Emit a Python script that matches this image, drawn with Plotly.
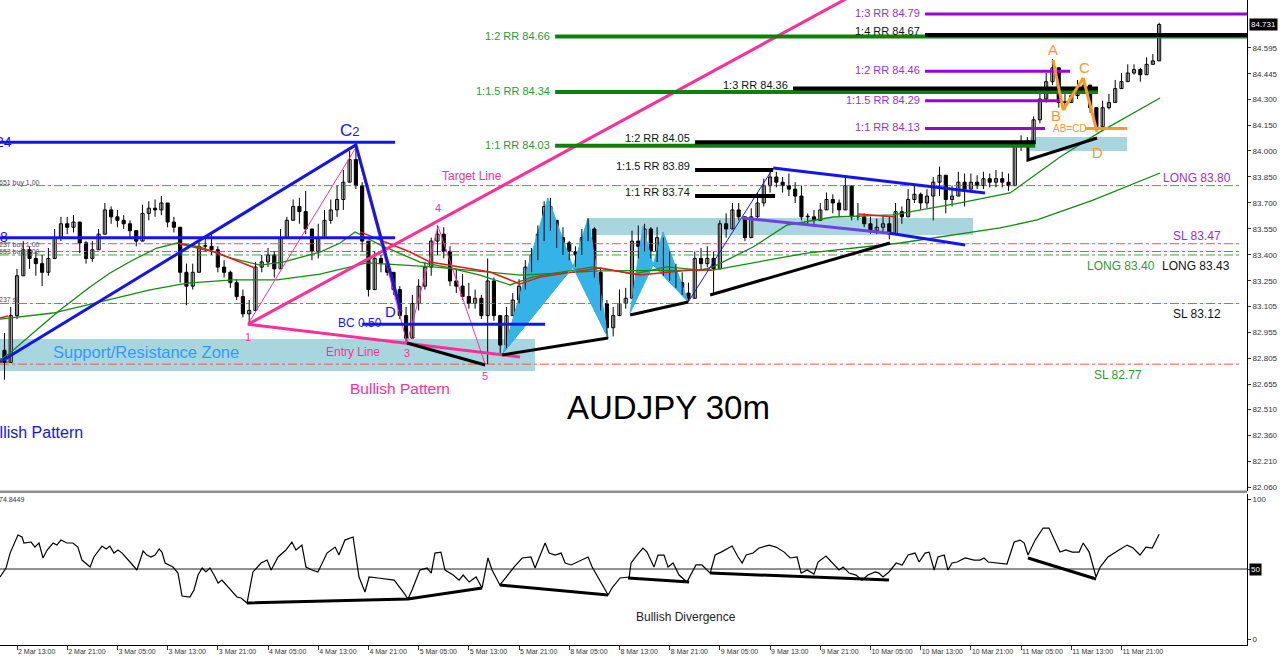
import plotly.graph_objects as go

# ------------------------------------------------------------------ DATA
# x = number of 30-minute bars after 2 Mar 13:00 ; one drawn candle = 1 hour
candle_bar = list(range(-4, 366, 2))
first_open = 8285  # price * 100
close_pips = [
    8278, 8305, 8328, 8343, 8338, 8335, 8330, 8338, 8350, 8358,
    8356, 8359, 8347, 8338, 8343, 8352, 8366, 8362, 8360, 8358,
    8354, 8348, 8364, 8367, 8366, 8370, 8359, 8356, 8330, 8322,
    8330, 8345, 8345, 8343, 8333, 8330, 8324, 8316, 8306, 8308,
    8333, 8336, 8340, 8332, 8350, 8360, 8368, 8365, 8355, 8342,
    8350, 8360, 8366, 8372, 8382, 8395, 8380, 8348, 8320, 8338,
    8335, 8330, 8320, 8305, 8292, 8312, 8322, 8333, 8348, 8352,
    8342, 8325, 8322, 8316, 8312, 8315, 8305, 8325, 8305, 8288,
    8305, 8314, 8322, 8333, 8340, 8352, 8368, 8360, 8350, 8347,
    8342, 8340, 8350, 8355, 8330, 8312, 8298, 8305, 8312, 8315,
    8348, 8345, 8355, 8342, 8350, 8332, 8330, 8324, 8318, 8315,
    8338, 8335, 8338, 8332, 8358, 8355, 8366, 8362, 8350, 8362,
    8370, 8380, 8385, 8382, 8380, 8378, 8374, 8362, 8362, 8360,
    8366, 8372, 8370, 8366, 8380, 8362, 8362, 8358, 8354, 8356,
    8358, 8352, 8365, 8362, 8372, 8375, 8370, 8374, 8382, 8386,
    8372, 8374, 8382, 8378, 8382, 8380, 8384, 8382, 8384, 8382,
    8380, 8403, 8405, 8404, 8418, 8430, 8440, 8448, 8428, 8428,
    8432, 8436, 8438, 8425, 8414, 8425, 8428, 8436, 8440, 8445,
    8447, 8444, 8450, 8452, 8473]
high_pips = [
    8295, 8310, 8332, 8348, 8345, 8342, 8340, 8344, 8355, 8362,
    8362, 8363, 8356, 8348, 8348, 8355, 8370, 8368, 8366, 8363,
    8360, 8353, 8369, 8371, 8372, 8374, 8368, 8362, 8356, 8335,
    8335, 8348, 8350, 8352, 8345, 8337, 8331, 8326, 8320, 8314,
    8336, 8340, 8344, 8342, 8355, 8362, 8372, 8373, 8377, 8355,
    8358, 8366, 8372, 8380, 8389, 8400, 8403, 8382, 8340, 8342,
    8340, 8338, 8330, 8322, 8310, 8317, 8326, 8336, 8350, 8357,
    8356, 8345, 8332, 8329, 8324, 8320, 8317, 8338, 8327, 8305,
    8310, 8318, 8326, 8337, 8344, 8357, 8371, 8373, 8360, 8356,
    8348, 8345, 8355, 8361, 8356, 8332, 8314, 8310, 8320, 8321,
    8354, 8357, 8358, 8356, 8356, 8345, 8342, 8335, 8330, 8324,
    8342, 8344, 8345, 8342, 8360, 8364, 8370, 8370, 8362, 8367,
    8376, 8384, 8389, 8388, 8385, 8387, 8382, 8380, 8364, 8366,
    8370, 8376, 8375, 8372, 8385, 8380, 8370, 8364, 8362, 8361,
    8363, 8362, 8370, 8368, 8378, 8380, 8376, 8378, 8385, 8391,
    8385, 8380, 8388, 8387, 8387, 8386, 8388, 8387, 8389, 8388,
    8387, 8406, 8409, 8408, 8420, 8433, 8445, 8453, 8442, 8435,
    8437, 8441, 8442, 8435, 8425, 8429, 8433, 8441, 8445, 8450,
    8450, 8448, 8454, 8456, 8474]
low_pips = [
    8268, 8278, 8303, 8328, 8332, 8328, 8322, 8328, 8338, 8348,
    8352, 8353, 8341, 8335, 8336, 8345, 8352, 8358, 8356, 8355,
    8350, 8345, 8348, 8360, 8362, 8363, 8356, 8353, 8324, 8311,
    8320, 8330, 8342, 8340, 8330, 8327, 8321, 8314, 8304, 8300,
    8310, 8330, 8333, 8327, 8336, 8352, 8360, 8358, 8352, 8337,
    8338, 8350, 8358, 8362, 8366, 8386, 8378, 8342, 8316, 8330,
    8330, 8328, 8317, 8303, 8289, 8292, 8308, 8320, 8328, 8340,
    8338, 8322, 8318, 8314, 8309, 8309, 8303, 8277, 8302, 8283,
    8286, 8305, 8312, 8320, 8330, 8337, 8348, 8354, 8344, 8340,
    8337, 8333, 8340, 8348, 8327, 8308, 8293, 8293, 8305, 8309,
    8325, 8338, 8342, 8338, 8336, 8328, 8325, 8321, 8317, 8313,
    8326, 8331, 8333, 8318, 8335, 8350, 8356, 8360, 8348, 8352,
    8361, 8368, 8376, 8379, 8376, 8374, 8370, 8360, 8358, 8358,
    8360, 8366, 8364, 8362, 8368, 8360, 8360, 8356, 8352, 8352,
    8353, 8349, 8355, 8358, 8362, 8370, 8366, 8367, 8360, 8374,
    8364, 8368, 8376, 8368, 8379, 8378, 8378, 8379, 8379, 8379,
    8377, 8382, 8400, 8401, 8404, 8416, 8428, 8438, 8425, 8424,
    8428, 8430, 8433, 8422, 8411, 8416, 8424, 8430, 8436, 8442,
    8444, 8440, 8447, 8450, 8455]

time_tick_bar = list(range(0, 353, 16))
time_tick_text = ["2 Mar 13:00", "2 Mar 21:00", "3 Mar 05:00", "3 Mar 13:00", "3 Mar 21:00",
                  "4 Mar 05:00", "4 Mar 13:00", "4 Mar 21:00", "5 Mar 05:00", "5 Mar 13:00",
                  "5 Mar 21:00", "8 Mar 05:00", "8 Mar 13:00", "8 Mar 21:00", "9 Mar 05:00",
                  "9 Mar 13:00", "9 Mar 21:00", "10 Mar 05:00", "10 Mar 13:00", "10 Mar 21:00",
                  "11 Mar 05:00", "11 Mar 13:00", "11 Mar 21:00"]
price_tick_vals = [84.595, 84.445, 84.300, 84.150, 84.000, 83.850, 83.700, 83.550, 83.400,
                   83.250, 83.105, 82.955, 82.805, 82.655, 82.510, 82.360, 82.210, 82.060]
last_price = 84.731
osc_last = "74.8449"

# oscillator (bar, value)
osc_points = [
    (-5.4, 44.3), (-3.5, 50.7), (-2.2, 61.4), (0.3, 74.3), (1.6, 72.9), (2.2, 68.6), (4.5, 69.3),
    (5.7, 65.7), (7.0, 68.6), (8.3, 57.9), (9.6, 63.6), (11.5, 68.6), (12.7, 67.1), (14.0, 70.7),
    (15.9, 68.6), (17.8, 68.6), (19.4, 65.7), (20.7, 56.4), (23.3, 51.4), (24.5, 58.6), (27.1, 66.4),
    (28.4, 64.3), (29.6, 66.4), (30.9, 61.4), (32.2, 63.6), (33.5, 61.4), (36.3, 54.3), (38.2, 49.3),
    (40.2, 62.9), (41.4, 60.0), (42.7, 58.6), (44.0, 60.0), (45.3, 64.3), (46.2, 62.1), (47.2, 54.3),
    (49.7, 51.4), (51.3, 47.1), (52.6, 30.7), (55.1, 30.0), (56.4, 35.0), (57.7, 45.7), (59.0, 50.7),
    (60.2, 47.9), (61.5, 50.7), (62.8, 45.7), (64.1, 40.0), (65.3, 42.1), (67.6, 36.4), (70.1, 30.0),
    (71.4, 29.3), (73.3, 25.7), (75.2, 47.9), (77.8, 54.3), (79.7, 56.4), (81.0, 49.3), (83.2, 58.6),
    (85.7, 63.6), (87.6, 69.3), (88.9, 63.6), (90.8, 67.1), (92.1, 51.4), (94.0, 49.3), (95.9, 47.9),
    (98.8, 61.4), (101.4, 65.7), (102.6, 60.0), (104.5, 70.7), (107.1, 72.9), (109.0, 44.3),
    (110.9, 33.6), (112.2, 44.3), (115.1, 43.6), (120.2, 42.1), (123.3, 32.9), (124.6, 28.6),
    (125.9, 35.0), (128.4, 49.3), (130.7, 50.7), (132.0, 47.1), (133.2, 61.4), (135.1, 62.1),
    (136.4, 49.3), (139.0, 45.7), (140.9, 42.1), (142.2, 45.7), (144.1, 40.7), (146.3, 44.3),
    (148.2, 36.4), (150.1, 57.9), (151.4, 49.3), (153.9, 38.6), (155.9, 44.3), (158.4, 51.4),
    (161.0, 57.9), (163.8, 58.6), (165.1, 50.7), (166.4, 58.6), (168.3, 68.6), (169.6, 61.4),
    (171.5, 60.0), (173.4, 61.4), (174.7, 54.3), (176.6, 52.9), (178.8, 55.0), (182.0, 58.6),
    (183.3, 51.4), (185.8, 42.1), (188.4, 31.4), (189.6, 36.4), (192.2, 43.6), (195.1, 44.3),
    (195.7, 54.3), (197.6, 60.0), (199.5, 65.0), (200.8, 62.1), (203.0, 51.4), (204.3, 60.0),
    (206.2, 60.0), (207.5, 51.4), (209.1, 54.3), (211.0, 45.7), (213.5, 40.7), (216.4, 52.9),
    (218.3, 52.9), (220.9, 47.1), (222.5, 60.0), (224.4, 62.1), (227.9, 66.4), (229.8, 58.6),
    (231.1, 54.3), (232.4, 60.0), (234.6, 61.4), (236.5, 65.0), (239.7, 67.1), (241.9, 65.7),
    (244.5, 62.1), (246.4, 57.9), (248.6, 58.6), (249.9, 47.1), (251.8, 49.3), (254.0, 46.4),
    (255.3, 55.0), (257.8, 59.3), (260.7, 52.9), (262.0, 49.3), (263.3, 51.4), (265.2, 47.1),
    (267.4, 45.7), (269.3, 42.1), (271.2, 45.7), (273.5, 47.9), (274.7, 47.1), (276.0, 44.3),
    (277.9, 47.9), (280.2, 54.3), (282.1, 52.9), (284.0, 60.0), (286.2, 61.4), (287.5, 55.0),
    (289.4, 61.4), (290.7, 62.1), (292.3, 49.3), (293.5, 58.6), (295.5, 60.0), (296.7, 49.3),
    (298.0, 54.3), (299.6, 55.0), (302.2, 57.9), (305.0, 56.4), (306.9, 56.4), (308.2, 57.9),
    (309.5, 55.0), (312.3, 54.3), (315.5, 53.6), (317.8, 69.3), (319.7, 70.7), (321.0, 68.6),
    (322.2, 60.0), (324.5, 70.7), (327.0, 79.3), (328.9, 79.3), (330.2, 72.9), (332.4, 62.1),
    (334.3, 63.6), (336.3, 62.1), (338.5, 62.1), (339.8, 68.6), (341.7, 62.1), (343.9, 44.3),
    (345.2, 51.4), (347.7, 58.6), (351.2, 63.6), (353.8, 67.1), (355.7, 65.0), (357.9, 60.0),
    (359.8, 65.7), (361.8, 65.0), (364.0, 74.8)]
osc_divergence = [
    [(73.3, 25.7), (124.6, 28.6), (148.2, 36.4)],
    [(153.9, 38.6), (188.4, 31.4)],
    [(194.7, 43.6), (214.2, 40.7)],
    [(220.9, 47.1), (277.9, 42.1)],
    [(322.2, 57.9), (343.9, 42.9)]]

# moving averages (bar, price)
ma_fast = [(-5.42, 82.794), (-2.23, 82.834), (5.10, 82.950), (13.71, 83.083), (23.27, 83.215),
           (29.64, 83.296), (36.97, 83.371), (44.62, 83.440), (51.0, 83.469), (58.33, 83.446),
           (67.89, 83.383), (77.45, 83.342), (84.78, 83.359), (96.57, 83.417), (102.95, 83.469),
           (107.73, 83.533), (115.70, 83.458), (128.45, 83.359), (136.41, 83.331), (147.57, 83.284),
           (157.13, 83.227), (164.46, 83.273), (183.59, 83.331), (196.33, 83.290), (207.17, 83.331),
           (217.69, 83.313), (221.83, 83.331), (234.58, 83.446), (245.42, 83.573), (260.08, 83.619),
           (279.20, 83.631), (291.95, 83.671), (300.56, 83.700), (316.49, 83.758), (332.43, 83.965),
           (345.18, 84.110), (353.78, 84.196), (364.30, 84.306)]
ma_slow = [(-5.42, 83.030), (11.47, 83.065), (26.45, 83.129), (42.39, 83.198), (54.18, 83.238),
           (68.84, 83.256), (82.87, 83.256), (96.57, 83.290), (111.55, 83.354), (132.59, 83.331),
           (160.32, 83.284), (185.82, 83.308), (221.83, 83.313), (251.79, 83.411), (281.43, 83.469),
           (313.31, 83.556), (325.10, 83.602), (342.95, 83.717), (364.30, 83.873)]
ma_red = [
    [(-5.42, 83.036), (-2.87, 83.048)],
    [(51.95, 83.463), (63.11, 83.417), (75.86, 83.325)],
    [(109.32, 83.533), (115.70, 83.486), (125.26, 83.417), (131.63, 83.359), (141.20, 83.331),
     (150.76, 83.302), (160.32, 83.233), (166.69, 83.273), (185.82, 83.325), (198.57, 83.284),
     (214.50, 83.313), (221.51, 83.313)],
    [(268.05, 83.636), (279.84, 83.619)]]

# order / stop levels (dash-dot)
order_price = [83.80, 83.465, 83.42, 83.40, 83.12, 82.77]
order_kind = ["buy", "sl", "buy", "buy", "sl", "sl"]
order_from, order_to = -5.42, 389.8

# risk/reward target lines
rr_text = ["1:3 RR 84.79", "1:4 RR 84.67", "1:2 RR 84.66", "1:2 RR 84.46", "1:3 RR 84.36",
           "1:1.5 RR 84.34", "1:1.5 RR 84.29", "1:1 RR 84.13", "1:2 RR 84.05", "1:1 RR 84.03",
           "1:1.5 RR 83.89", "1:1 RR 83.74"]
rr_price = [84.79, 84.67, 84.66, 84.46, 84.36, 84.34, 84.29, 84.13, 84.05, 84.03, 83.89, 83.74]
rr_from = [289.4, 289.4, 171.5, 289.4, 247.3, 171.5, 289.4, 289.4, 216.1, 171.5, 216.1, 216.1]
rr_to = [392.0, 392.0, 392.0, 335.6, 344.5, 344.5, 332.4, 327.6, 324.5, 324.5, 241.0, 241.6]
rr_set = ["c", "b", "a", "c", "b", "a", "c", "c", "b", "a", "b", "b"]

# zones (bar0, bar1, price_low, price_high)
zone_bar0 = [-5.42, 182.0, 322.9]
zone_bar1 = [165.1, 304.7, 353.8]
zone_low = [82.731, 83.515, 84.000]
zone_high = [82.915, 83.613, 84.081]

# harmonic patterns (bar, price)
gartley_leg = [(-5.42, 82.782), (108.0, 84.035), (122.4, 83.071)]
gartley_c_level, gartley_x_level = 84.05, 83.50
gartley_level_bars = (-5.42, 120.5)
bc_level, bc_bars = 83.00, (110.0, 168.3)
wave_points = [(73.6, 83.00), (108.0, 84.02), (124.3, 82.892), (134.2, 83.565), (149.2, 82.77)]
target_line = [(73.6, 83.00), (270.0, 84.935)]
entry_line = [(73.6, 83.00), (160.3, 82.811)]
bat1 = [(154.9, 82.834), (169.2, 83.729), (177.2, 83.331), (182.0, 83.613), (188.4, 82.921)]
bat2 = [(195.4, 83.065), (199.5, 83.567), (202.7, 83.342), (205.9, 83.533), (213.9, 83.129)]
impulse_leg = [(213.9, 83.129), (241.0, 83.902)]
wedge_top = [(241.0, 83.902), (308.5, 83.758)]
wedge_bottom = [(231.1, 83.613), (278.2, 83.525), (302.2, 83.458)]
price_divergence = [
    [(124.3, 82.892), (149.2, 82.765)],
    [(154.6, 82.823), (188.4, 82.921)],
    [(195.4, 83.054), (213.9, 83.129)],
    [(220.9, 83.169), (278.2, 83.469)],
    [(322.2, 84.063), (322.2, 83.948), (344.2, 84.075)]]
abcd = [(330.2, 84.525), (333.4, 84.237), (339.8, 84.421), (344.2, 84.110)]
abcd_level, abcd_bars = 84.13, (340.4, 353.8)

# text notes
note_text = ["Target Line", "Entry Line", "Bullish Pattern", "1", "3", "4", "5",
             "C<span style='font-size:13px'>2</span>", "D", "BC 0.50", "Support/Resistance Zone",
             "AUDJPY 30m", "Bullish Pattern", "A", "B", "C", "D", "AB=CD",
             "LONG 83.80", "SL 83.47", "LONG 83.40", "LONG 83.43", "SL 83.12", "SL 82.77"]
note_bar = [145.0, 107.1, 122.1, 73.6, 124.3, 134.2, 149.2, 106.1, 118.9, 109.3, 41.1,
            207.5, 21.7, 330.2, 331.2, 340.1, 344.2, 335.6,
            376.1, 376.1, 351.9, 375.8, 376.1, 350.9]
note_price = [83.856, 82.840, 82.627, 82.927, 82.834, 83.671, 82.702, 84.121, 83.071, 83.007, 82.840,
              82.517, 82.373, 84.583, 84.202, 84.479, 83.994, 84.127,
              83.844, 83.510, 83.336, 83.336, 83.059, 82.707]

# ------------------------------------------------------------------ STYLE
PINK = "#ff2f97"
BLUE = "#1414f0"
LBLUE = "#34b3e8"
ZONE = "#a8d6df"
ORANGE = "#ff9a1f"
PURPLE = "#9a2fd6"
GREEN_TXT = "#2f9a2f"
MA_GREEN = "#138a13"
MA_RED = "#ee1515"
DASH_GREEN = "#3fa83f"
DASH_RED = "#ff5530"
rr_line_color = {"a": "#0d800d", "b": "#000000", "c": "#9a00d6"}
rr_text_color = {"a": GREEN_TXT, "b": "#111111", "c": PURPLE}
rr_width = {"a": 4, "b": 4, "c": 3}
rr_lift = {"a": 1, "b": 4, "c": 1}
rr_draw_order = ["a", "c", "b"]
note_color = [PINK, PINK, PINK, PINK, PINK, PINK, PINK, BLUE, BLUE, BLUE, "#3399ff",
              "#000000", BLUE, ORANGE, ORANGE, ORANGE, ORANGE, ORANGE,
              PURPLE, PURPLE, GREEN_TXT, "#111111", "#111111", GREEN_TXT]
note_size = [12, 12, 15.5, 11, 11, 11, 11, 17, 15, 12, 16.5, 33, 16, 15, 15, 15, 15, 10,
             12, 12, 12, 12, 12, 12]
note_anchor = ["center"] * 12 + ["right"] + ["center"] * 11
FONT = "Liberation Sans"

P = 100.0
opens_pips = [first_open] + close_pips[:-1]
o = [v / P for v in opens_pips]
c = [v / P for v in close_pips]
h = [max(a, b, d) / P for a, b, d in zip(high_pips, opens_pips, close_pips)]
l = [min(a, b, d) / P for a, b, d in zip(low_pips, opens_pips, close_pips)]

fig = go.Figure()


def line(points, color, width, dash=None, yaxis="y"):
    fig.add_trace(go.Scatter(
        x=[p[0] for p in points], y=[p[1] for p in points], mode="lines",
        line=dict(color=color, width=width, dash=dash), yaxis=yaxis,
        hoverinfo="skip", showlegend=False))


def fill(points, color):
    pts = list(points) + [points[0]]
    fig.add_trace(go.Scatter(
        x=[p[0] for p in pts], y=[p[1] for p in pts], mode="lines", fill="toself",
        fillcolor=color, line=dict(color=color, width=1), hoverinfo="skip", showlegend=False))


# zones as background shapes
for b0, b1, lo, hi in zip(zone_bar0, zone_bar1, zone_low, zone_high):
    fig.add_shape(type="rect", xref="x", yref="y", x0=b0, x1=b1, y0=lo, y1=hi,
                  fillcolor=ZONE, line=dict(width=0), layer="below")

# order dash-dot levels
for pr, kind in zip(order_price, order_kind):
    line([(order_from, pr), (order_to, pr)], DASH_GREEN if kind == "buy" else DASH_RED, 1,
         dash="dashdot")

# harmonic fills
fill(bat1[0:3], LBLUE)
fill(bat1[2:5], LBLUE)
fill(bat2[0:3], LBLUE)
fill(bat2[2:5], LBLUE)

# candles: wicks + bodies
wick_x, wick_y = [], []
for b, lo, hi in zip(candle_bar, l, h):
    wick_x += [b, b, None]
    wick_y += [lo, hi, None]
fig.add_trace(go.Scatter(x=wick_x, y=wick_y, mode="lines", line=dict(color="black", width=1),
                         hoverinfo="skip", showlegend=False))
body_base = [min(a, b) for a, b in zip(o, c)]
body_size = [max(abs(a - b), 0.004) for a, b in zip(o, c)]
body_fill = ["white" if b >= a else "black" for a, b in zip(o, c)]
fig.add_trace(go.Bar(x=candle_bar, y=body_size, base=body_base, width=1.0,
                     marker=dict(color=body_fill, line=dict(color="black", width=1)),
                     hoverinfo="skip", showlegend=False))

# moving averages
line(ma_slow, MA_GREEN, 1.3)
line(ma_fast, MA_GREEN, 1.3)
for seg in ma_red:
    line(seg, MA_RED, 1.5)

# pattern drawings
line([bat1[0], bat1[2], bat1[4]], LBLUE, 1)
line(wave_points, PINK, 1)
line(target_line, PINK, 3)
line(entry_line, PINK, 3)
line(gartley_leg, BLUE, 3)
line([(gartley_level_bars[0], gartley_c_level), (gartley_level_bars[1], gartley_c_level)], BLUE, 3)
line([(gartley_level_bars[0], gartley_x_level), (gartley_level_bars[1], gartley_x_level)], BLUE, 3)
line([(bc_bars[0], bc_level), (bc_bars[1], bc_level)], BLUE, 3)
line(impulse_leg, BLUE, 1)
line(wedge_top, BLUE, 3)
line(wedge_bottom[:2], "#6c42e0", 3)
line(wedge_bottom[1:], BLUE, 3)
for seg in price_divergence:
    line(seg, "black", 3)

# RR lines (green first, black on top)
for group in rr_draw_order:
    for txt, pr, b0, b1, s in zip(rr_text, rr_price, rr_from, rr_to, rr_set):
        if s != group:
            continue
        line([(b0, pr), (b1, pr)], rr_line_color[s], rr_width[s])
        fig.add_annotation(x=b0, y=pr, xref="x", yref="y", text=txt, showarrow=False,
                           xanchor="right", yanchor="middle", xshift=-3, yshift=rr_lift[s],
                           font=dict(family=FONT, size=11, color=rr_text_color[s]))

# ABCD
line(abcd, ORANGE, 3)
line([(abcd_bars[0], abcd_level), (abcd_bars[1], abcd_level)], ORANGE, 3)

# oscillator
fig.add_trace(go.Scatter(x=[-5.42, 392.0], y=[50, 50], mode="lines", yaxis="y2",
                         line=dict(color="#222222", width=1), hoverinfo="skip", showlegend=False))
line(osc_points, "black", 1.2, yaxis="y2")
for seg in osc_divergence:
    line(seg, "black", 3, yaxis="y2")

# notes
for txt, bx, pr, col, sz, anc in zip(note_text, note_bar, note_price, note_color, note_size, note_anchor):
    fig.add_annotation(x=bx, y=pr, xref="x", yref="y", text=txt, showarrow=False,
                       xanchor=anc, yanchor="middle", font=dict(family=FONT, size=sz, color=col))

fig.add_annotation(x=213.2, y=15.7, xref="x", yref="y2", text="Bullish Divergence", showarrow=False,
                   font=dict(family=FONT, size=12, color="#222222"))

# small left-edge order labels
small_text = ["651 buy 1.00", "237 buy 1.00", "653 buy 1.00", "237 sl", "8 sl"]
small_price = [83.815, 83.458, 83.418, 83.145, 82.790]
for t, pr in zip(small_text, small_price):
    fig.add_annotation(x=0, xref="paper", y=pr, yref="y", text=t, showarrow=False, xanchor="left",
                       xshift=-3, font=dict(family=FONT, size=7, color="#4a4a4a"))
for t, pr, sh in zip(["84.0524", "83.498"], [84.052, 83.505], [14, 10]):
    fig.add_annotation(x=0, xref="paper", y=pr, yref="y", text=t, showarrow=False, xanchor="right",
                       xshift=sh, font=dict(family=FONT, size=14, color=BLUE))
fig.add_annotation(x=0, xref="paper", y=100, yref="y2", text=osc_last, showarrow=False,
                   xanchor="left", xshift=-3, font=dict(family=FONT, size=7, color="#333333"))

# value boxes on the right scale
fig.add_annotation(x=1, xref="paper", y=last_price, yref="y", text=f"{last_price:.3f}",
                   showarrow=False, xanchor="left", xshift=2, bgcolor="black", borderpad=1,
                   font=dict(family=FONT, size=8, color="white"))
fig.add_annotation(x=1, xref="paper", y=50, yref="y2", text="50", showarrow=False, xanchor="left",
                   xshift=2, bgcolor="black", borderpad=1, font=dict(family=FONT, size=8, color="white"))

# panel separator
fig.add_shape(type="line", xref="paper", yref="paper", x0=0, x1=1, y0=0.2375, y1=0.2375,
              line=dict(color="#8c8c8c", width=2.5))

fig.update_layout(
    width=1280, height=660, margin=dict(l=0, r=33, t=0, b=15, autoexpand=False),
    paper_bgcolor="white", plot_bgcolor="white", showlegend=False, barmode="overlay",
    font=dict(family=FONT, color="black"),
    xaxis=dict(range=[-5.42, 392.0], domain=[0, 1], anchor="y2", automargin=False,
               tickvals=time_tick_bar, ticktext=time_tick_text, ticks="outside", ticklen=4,
               tickangle=0, tickcolor="#333333", showline=True, linecolor="black", linewidth=1,
               showgrid=False, zeroline=False, ticklabelposition="outside right",
               tickfont=dict(family=FONT, size=7, color="#333333")),
    yaxis=dict(domain=[0.2388, 1], range=[82.0381, 84.8713], side="right", anchor="x",
               automargin=False,
               tickvals=price_tick_vals, ticktext=[f"{v:.3f}" for v in price_tick_vals],
               ticks="outside", ticklen=3, tickcolor="#333333", showline=True,
               linecolor="black", linewidth=1, showgrid=False, zeroline=False,
               tickfont=dict(family=FONT, size=8, color="#333333")),
    yaxis2=dict(domain=[0, 0.234], range=[-4.29, 103.57], side="right", anchor="x",
                automargin=False,
                tickvals=[100, 50, 0], ticktext=["100", "", "0"], ticks="outside", ticklen=3,
                tickcolor="#333333", showline=True, linecolor="black", linewidth=1,
                showgrid=False, zeroline=False,
                tickfont=dict(family=FONT, size=8, color="#333333")),
)

fig.write_html("out.html", config={"displayModeBar": False},
               post_script="document.body.style.margin='0';document.body.style.overflow='hidden';")
